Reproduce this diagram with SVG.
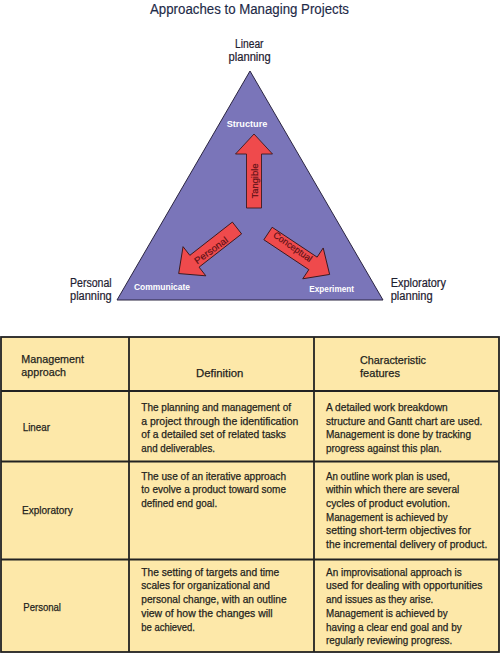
<svg xmlns="http://www.w3.org/2000/svg" width="500" height="654" viewBox="0 0 500 654">
<defs>
<style>
text{font-family:"Liberation Sans",Arial,sans-serif;}
.title{font-size:14px;fill:#1e2a48;stroke:#1e2a48;stroke-width:0.15;}
.lab{font-size:12px;fill:#1e2030;stroke:#1e2030;stroke-width:0.2;}
.node{font-size:9px;font-weight:bold;fill:#ffffff;}
.al{font-size:9.5px;fill:#5a0f14;stroke:#5a0f14;stroke-width:0.15;}
.hd{font-size:11.5px;fill:#231f20;stroke:#231f20;stroke-width:0.25;}
.b{font-size:10.8px;fill:#231f20;stroke:#231f20;stroke-width:0.25;}
.arrow{fill:#ef4a4c;stroke:#3a1a20;stroke-width:0.9;stroke-linejoin:miter;}
.cell{fill:#fde8a9;stroke:none;}
.grid{stroke:#222222;stroke-width:1.8;fill:none;}
</style>
<polygon id="arr" points="-7.5,0 7.5,0 7.5,-54 18.5,-54 0,-74 -18.5,-54 -7.5,-54" class="arrow"/>
</defs>

<g id="title">
<text class="title" x="150" y="14" textLength="199" lengthAdjust="spacingAndGlyphs">Approaches to Managing Projects</text>
</g>

<g id="triangle">
<polygon points="250,71 117,300 383,300" fill="#7a75b9" stroke="#2a2440" stroke-width="1"/>
</g>

<g id="node-linear">
<text class="lab" x="235" y="48" textLength="28.5" lengthAdjust="spacingAndGlyphs">Linear</text>
<text class="lab" x="228.5" y="60.5" textLength="42.3" lengthAdjust="spacingAndGlyphs">planning</text>
</g>
<g id="node-personal">
<text class="lab" x="70" y="287" textLength="41.7" lengthAdjust="spacingAndGlyphs">Personal</text>
<text class="lab" x="70" y="300" textLength="41.7" lengthAdjust="spacingAndGlyphs">planning</text>
</g>
<g id="node-exploratory">
<text class="lab" x="390.7" y="287" textLength="55.3" lengthAdjust="spacingAndGlyphs">Exploratory</text>
<text class="lab" x="390.7" y="300" textLength="42" lengthAdjust="spacingAndGlyphs">planning</text>
</g>

<g id="node-structure">
<text class="node" x="226.7" y="126.5" textLength="40.6" lengthAdjust="spacingAndGlyphs">Structure</text>
</g>
<g id="node-communicate">
<text class="node" x="134" y="290" textLength="56" lengthAdjust="spacingAndGlyphs">Communicate</text>
</g>
<g id="node-experiment">
<text class="node" x="309.3" y="292" textLength="44.7" lengthAdjust="spacingAndGlyphs">Experiment</text>
</g>

<g id="connectors">
<use href="#arr" transform="translate(254,208)"/>
<use href="#arr" transform="translate(237,228) rotate(-128)"/>
<use href="#arr" transform="translate(268,233.5) rotate(123.6)"/>
<text class="al" transform="translate(257.5,181) rotate(-90)" text-anchor="middle" textLength="35" lengthAdjust="spacingAndGlyphs">Tangible</text>
<text class="al" transform="translate(213,253) rotate(-36)" text-anchor="middle" textLength="39" lengthAdjust="spacingAndGlyphs">Personal</text>
<text class="al" transform="translate(291,249.5) rotate(35)" text-anchor="middle" textLength="45" lengthAdjust="spacingAndGlyphs">Conceptual</text>
</g>

<g id="table">
<rect class="cell" x="1" y="337" width="498" height="315"/>
<rect class="grid" x="1" y="337" width="498" height="315"/>
<line class="grid" x1="1" y1="391" x2="499" y2="391"/>
<line class="grid" x1="1" y1="461.5" x2="499" y2="461.5"/>
<line class="grid" x1="1" y1="559.5" x2="499" y2="559.5"/>
<line class="grid" x1="129" y1="337" x2="129" y2="652"/>
<line class="grid" x1="314" y1="337" x2="314" y2="652"/>

<g id="header">
<text class="hd" x="21.3" y="363" textLength="62.7" lengthAdjust="spacingAndGlyphs">Management</text>
<text class="hd" x="21.3" y="376" textLength="44.7" lengthAdjust="spacingAndGlyphs">approach</text>
<text class="hd" x="196" y="377" textLength="47.3" lengthAdjust="spacingAndGlyphs">Definition</text>
<text class="hd" x="360" y="364" textLength="66" lengthAdjust="spacingAndGlyphs">Characteristic</text>
<text class="hd" x="360" y="377" textLength="40" lengthAdjust="spacingAndGlyphs">features</text>
</g>

<g id="row-linear">
<text class="b" x="22.7" y="431" textLength="27.3" lengthAdjust="spacingAndGlyphs">Linear</text>
<text class="b" x="141.3" y="411" textLength="149.7" lengthAdjust="spacingAndGlyphs">The planning and management of</text>
<text class="b" x="141.3" y="424.7" textLength="157" lengthAdjust="spacingAndGlyphs">a project through the identification</text>
<text class="b" x="141.3" y="438.4" textLength="144.7" lengthAdjust="spacingAndGlyphs">of  a detailed set of  related tasks</text>
<text class="b" x="141.3" y="452" textLength="73.7" lengthAdjust="spacingAndGlyphs">and deliverables.</text>
<text class="b" x="326" y="411" textLength="121.7" lengthAdjust="spacingAndGlyphs">A detailed work breakdown</text>
<text class="b" x="326" y="424.7" textLength="156.3" lengthAdjust="spacingAndGlyphs">structure and Gantt chart are used.</text>
<text class="b" x="326" y="438.4" textLength="145" lengthAdjust="spacingAndGlyphs">Management is done by tracking</text>
<text class="b" x="326" y="452" textLength="115.7" lengthAdjust="spacingAndGlyphs">progress against this plan.</text>
</g>

<g id="row-exploratory">
<text class="b" x="22" y="514" textLength="50.7" lengthAdjust="spacingAndGlyphs">Exploratory</text>
<text class="b" x="141.3" y="479.5" textLength="144.7" lengthAdjust="spacingAndGlyphs">The use of  an iterative approach</text>
<text class="b" x="141.3" y="493.2" textLength="144.7" lengthAdjust="spacingAndGlyphs">to evolve a product toward some</text>
<text class="b" x="141.3" y="507" textLength="76" lengthAdjust="spacingAndGlyphs">defined end goal.</text>
<text class="b" x="326" y="479.5" textLength="124" lengthAdjust="spacingAndGlyphs">An outline work plan is used,</text>
<text class="b" x="326" y="493.2" textLength="133.3" lengthAdjust="spacingAndGlyphs">within which there are several</text>
<text class="b" x="326" y="507" textLength="124" lengthAdjust="spacingAndGlyphs">cycles of  product evolution.</text>
<text class="b" x="326" y="520.6" textLength="121.7" lengthAdjust="spacingAndGlyphs">Management is achieved by</text>
<text class="b" x="326" y="534.3" textLength="145" lengthAdjust="spacingAndGlyphs">setting short-term objectives for</text>
<text class="b" x="326" y="548" textLength="161.3" lengthAdjust="spacingAndGlyphs">the incremental delivery of  product.</text>
</g>

<g id="row-personal">
<text class="b" x="23.3" y="611" textLength="37.7" lengthAdjust="spacingAndGlyphs">Personal</text>
<text class="b" x="141.3" y="575.5" textLength="138" lengthAdjust="spacingAndGlyphs">The setting of  targets and time</text>
<text class="b" x="141.3" y="589.3" textLength="128.7" lengthAdjust="spacingAndGlyphs">scales for organizational and</text>
<text class="b" x="141.3" y="603" textLength="145.3" lengthAdjust="spacingAndGlyphs">personal change, with an outline</text>
<text class="b" x="141.3" y="616.8" textLength="131.3" lengthAdjust="spacingAndGlyphs">view of  how the changes will</text>
<text class="b" x="141.3" y="630.5" textLength="53.7" lengthAdjust="spacingAndGlyphs">be achieved.</text>
<text class="b" x="326" y="575.5" textLength="135.7" lengthAdjust="spacingAndGlyphs">An improvisational approach is</text>
<text class="b" x="326" y="589.3" textLength="156.3" lengthAdjust="spacingAndGlyphs">used for dealing with opportunities</text>
<text class="b" x="326" y="603" textLength="107.3" lengthAdjust="spacingAndGlyphs">and issues as they arise.</text>
<text class="b" x="326" y="616.8" textLength="121.7" lengthAdjust="spacingAndGlyphs">Management is achieved by</text>
<text class="b" x="326" y="630.5" textLength="135.7" lengthAdjust="spacingAndGlyphs">having a clear end goal and by</text>
<text class="b" x="326" y="644.3" textLength="126.3" lengthAdjust="spacingAndGlyphs">regularly reviewing progress.</text>
</g>
</g>
</svg>
